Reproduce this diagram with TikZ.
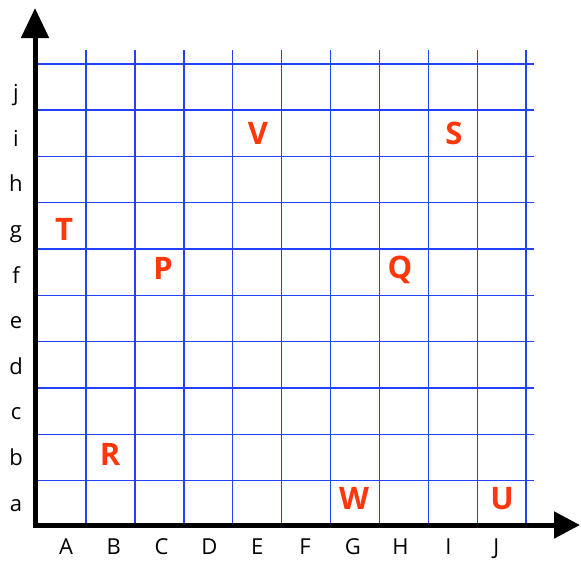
\documentclass[tikz,border=0pt]{standalone}
\usepackage{fontspec}
\setmainfont{Open Sans}
\usetikzlibrary{arrows.meta}

\definecolor{gridblue}{RGB}{35,65,250}
\definecolor{pointred}{RGB}{255,55,10}

\tikzset{
    gridline/.style={draw=gridblue, line width=1.4pt},
    axisline/.style={line width=5pt,
        {Triangle[length=30pt,width=27pt]}-{Triangle[length=26pt,width=26pt]}},
    axislabel/.style={anchor=base, font=\fontsize{22}{22}\selectfont},
    pointlabel/.style={text=pointred, font=\fontsize{31}{31}\selectfont\bfseries}
}

\begin{document}
\begin{tikzpicture}[x=1pt, y=-1pt]
    \useasboundingbox (0,0) rectangle (581,560);

    \coordinate (O) at (35,525);
    \coordinate (Ytip) at (35,8);
    \coordinate (Xtip) at (580,525);

    \foreach \k in {0,...,9}
        \draw[gridline] (86+48.9*\k, 50) -- (86+48.9*\k, 525);
    \foreach \k in {0,...,9}
        \draw[gridline] (35, 480.5-46.3*\k) -- (534, 480.5-46.3*\k);

    \draw[axisline] (Ytip) -- (O) -- (Xtip);

    \foreach \l [count=\k from 0] in {A,B,C,D,E,F,G,H,I,J}
        \node[axislabel, inner sep=0pt] (col\l) at (66+47.8*\k, 554) {\l};
    \foreach \l [count=\k from 0] in {a,b,c,d,e,f,g,h,i,j}
        \node[axislabel] (row\l) at (16, 511-45.6*\k) {\l};

    \node[pointlabel] (V) at (258,133) {V};
    \node[pointlabel] (S) at (454,133) {S};
    \node[pointlabel] (T) at (64,229) {T};
    \node[pointlabel] (P) at (163,268) {P};
    \node[pointlabel] (Q) at (400,270) {Q};
    \node[pointlabel] (R) at (110,454) {R};
    \node[pointlabel] (W) at (354,498) {W};
    \node[pointlabel] (U) at (502,499) {U};
\end{tikzpicture}
\end{document}
